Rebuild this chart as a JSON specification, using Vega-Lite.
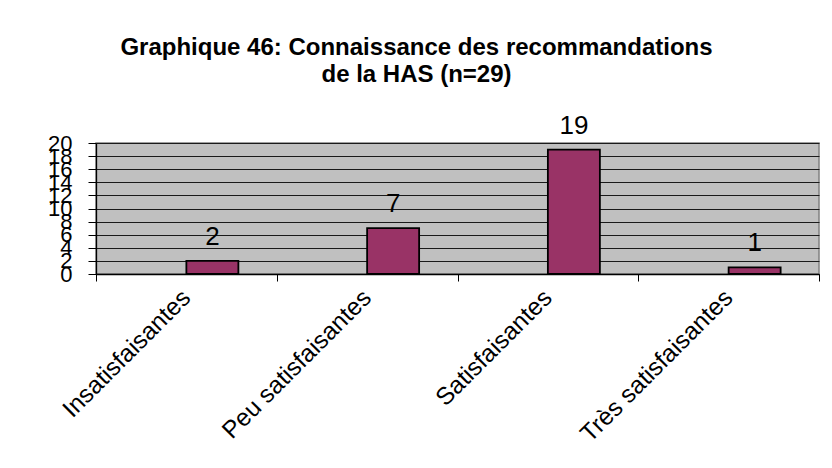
{
  "$schema": "https://vega.github.io/schema/vega-lite/v6.json",
  "width": 723,
  "height": 131,
  "autosize": {"type": "none"},
  "padding": {"left": 96, "top": 143, "right": 13, "bottom": 194},
  "background": "white",
  "title": {
    "text": ["Graphique 46: Connaissance des recommandations", "de la HAS (n=29)"],
    "font": "Liberation Sans",
    "fontSize": 24,
    "fontWeight": "bold",
    "color": "black",
    "anchor": "middle",
    "frame": "group",
    "dx": -41,
    "lineHeight": 27,
    "offset": 26
  },
  "data": {
    "values": [
      {"categorie": "Insatisfaisantes", "n": 2},
      {"categorie": "Peu satisfaisantes", "n": 7},
      {"categorie": "Satisfaisantes", "n": 19},
      {"categorie": "Très satisfaisantes", "n": 1}
    ]
  },
  "encoding": {
    "x": {
      "field": "categorie",
      "type": "nominal",
      "sort": null,
      "scale": {"paddingInner": 0, "paddingOuter": 0},
      "axis": {
        "title": null,
        "labelAngle": -45,
        "labelAlign": "right",
        "labelBaseline": "middle",
        "labelFont": "Liberation Sans",
        "labelFontSize": 24.5,
        "labelColor": "black",
        "labelPadding": 13,
        "tickBand": "extent",
        "tickSize": 7,
        "tickColor": "black",
        "domainColor": "black",
        "domainWidth": 1.3,
        "labelLimit": 400
      }
    },
    "y": {
      "field": "n",
      "type": "quantitative",
      "scale": {"domain": [0, 20], "nice": false},
      "axis": {
        "title": null,
        "values": [0, 2, 4, 6, 8, 10, 12, 14, 16, 18, 20],
        "labelOverlap": false,
        "labelFlush": false,
        "labelFont": "Liberation Sans",
        "labelFontSize": 22,
        "labelColor": "black",
        "labelPadding": 16,
        "tickSize": 8,
        "tickColor": "black",
        "domainColor": "black",
        "domainWidth": 1.3,
        "grid": true,
        "gridColor": "#1a1a1a",
        "gridWidth": 1.2,
        "gridOpacity": 1
      }
    }
  },
  "layer": [
    {
      "mark": {
        "type": "bar",
        "width": {"band": 0.2877},
        "xOffset": 26,
        "color": "#993366",
        "stroke": "black",
        "strokeWidth": 1.8
      }
    },
    {
      "mark": {
        "type": "text",
        "xOffset": 26,
        "dy": -16,
        "baseline": "alphabetic",
        "font": "Liberation Sans",
        "fontSize": 26,
        "color": "black"
      },
      "encoding": {"text": {"field": "n", "type": "quantitative"}}
    }
  ],
  "config": {
    "view": {"fill": "#C0C0C0", "stroke": "#808080", "strokeWidth": 1.5}
  }
}
